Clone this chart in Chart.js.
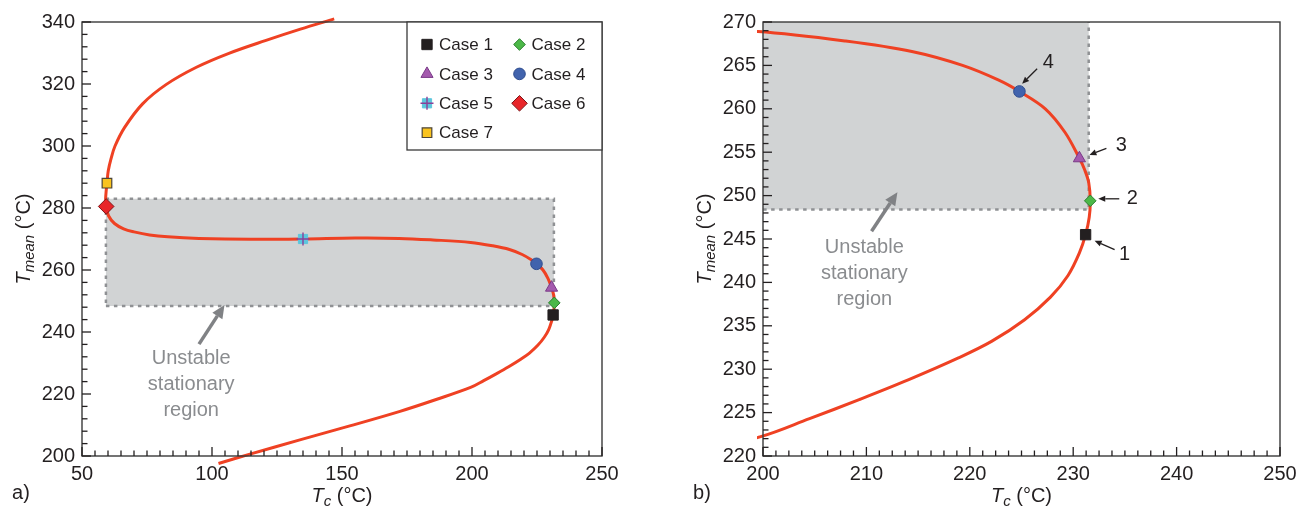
<!DOCTYPE html>
<html>
<head>
<meta charset="utf-8">
<script src="https://cdn.jsdelivr.net/npm/chart.js@4.4.1/dist/chart.umd.min.js"></script>
<style>
  html, body { margin: 0; padding: 0; background: #fff; overflow: hidden; }
  #wrap { position: relative; width: 1299px; height: 507px; overflow: hidden; }
  canvas { position: absolute; top: 0; }
</style>
</head>
<body>
<div id="wrap">
  <canvas id="chartA" width="640" height="507" style="left:0"></canvas>
  <canvas id="chartB" width="660" height="507" style="left:660px"></canvas>
</div>
<script>
// S-shaped steady-state curve, points in order along the curve
const curveTc = [102.5, 114.6, 133.8, 153.0, 172.3, 186.5, 199.7, 204.5, 209.3, 214.1, 218.9, 222.1, 225.3, 227.8,
  229.5, 230.6, 231.2, 231.55, 231.65, 231.5, 231.1, 230.6, 229.2, 227.3, 224.8, 222.8, 219.3, 214.4, 208.0,
  199.5, 185.0, 172.0, 155.0, 135.0, 115.0, 95.0, 83.0, 76.0, 70.0, 66.0, 62.5, 60.2, 59.3, 59.1, 59.3,
  59.6, 60.1, 61.2, 62.7, 66.4, 73.3, 82.3, 94.0, 106.5, 120.5, 134.0, 147.0];
const curveTmean = [197.6, 200.6, 205.2, 209.7, 214.4, 218.3, 222.2, 224.3, 226.5, 228.8, 231.3, 233.2, 235.7, 238.3,
  240.8, 243.4, 245.5, 247.5, 249.4, 251.5, 253.0, 254.3, 257.3, 260.0, 262.0, 263.3, 265.0, 266.6, 267.8,
  268.9, 269.7, 270.2, 270.3, 270.0, 269.9, 270.2, 270.7, 271.3, 272.3, 273.3, 275.0, 277.5, 280.5, 283.0, 285.5,
  288.0, 292.0, 296.0, 300.0, 306.0, 313.6, 319.8, 325.4, 329.9, 334.0, 337.7, 341.0];

// operating points
const caseNames = ['Case 1', 'Case 2', 'Case 3', 'Case 4', 'Case 5', 'Case 6', 'Case 7'];
const caseTc = [231.2, 231.65, 230.6, 224.8, 135.0, 59.3, 59.6];
const caseTmean = [245.5, 249.4, 254.3, 262.0, 270.0, 280.5, 288.0];

// unstable stationary region (shaded box)
const regionTc = [59.2, 231.5];
const regionTmean = [248.4, 283.0];

// axis ticks
const xTicksA = [50, 100, 150, 200, 250];
const yTicksA = [200, 220, 240, 260, 280, 300, 320, 340];
const xTicksB = [200, 210, 220, 230, 240, 250];
const yTicksB = [220, 225, 230, 235, 240, 245, 250, 255, 260, 265, 270];

const regionText = ['Unstable', 'stationary', 'region'];

const FONT = '"Liberation Sans", Arial, Helvetica, sans-serif';
const INK = '#231f20';

const caseStyles = [
  { pointStyle: 'rect', radius: 7.3, bg: '#231f20', border: '#231f20', bw: 1 },
  { pointStyle: 'rectRot', radius: 5.8, bg: '#4cb848', border: '#2a7f2e', bw: 1 },
  { pointStyle: 'triangle', radius: 7, bg: '#a45aae', border: '#7a3a88', bw: 1 },
  { pointStyle: 'circle', radius: 5.8, bg: '#4163ad', border: '#2f4d8f', bw: 1 },
  { pointStyle: 'rect', radius: 6.5, bg: '#5cc6dd', border: '#5cc6dd', bw: 1, cross: '#8a3f98' },
  { pointStyle: 'rectRot', radius: 7.8, bg: '#e8262a', border: '#7d1416', bw: 1 },
  { pointStyle: 'rect', radius: 6.8, bg: '#f9c31f', border: '#4d4536', bw: 1.2 }
];

function drawMarker(ctx, st, x, y) {
  ctx.save();
  ctx.fillStyle = st.bg; ctx.strokeStyle = st.border; ctx.lineWidth = st.bw;
  Chart.helpers.drawPoint(ctx, { pointStyle: st.pointStyle, radius: st.radius, borderWidth: st.bw, rotation: 0 }, x, y);
  if (st.cross) {
    ctx.strokeStyle = st.cross; ctx.lineWidth = 1.4;
    Chart.helpers.drawPoint(ctx, { pointStyle: 'cross', radius: st.radius, borderWidth: 1.4, rotation: 0 }, x, y);
  }
  ctx.restore();
}

function drawArrow(ctx, x0, y0, x1, y1, color, width, headLen, headW) {
  const ang = Math.atan2(y1 - y0, x1 - x0);
  const bx = x1 - headLen * Math.cos(ang), by = y1 - headLen * Math.sin(ang);
  ctx.save();
  ctx.strokeStyle = color; ctx.fillStyle = color; ctx.lineWidth = width;
  ctx.beginPath(); ctx.moveTo(x0, y0); ctx.lineTo(bx, by); ctx.stroke();
  ctx.beginPath();
  ctx.moveTo(x1, y1);
  ctx.lineTo(bx + headW / 2 * Math.sin(ang), by - headW / 2 * Math.cos(ang));
  ctx.lineTo(bx - headW / 2 * Math.sin(ang), by + headW / 2 * Math.cos(ang));
  ctx.closePath(); ctx.fill();
  ctx.restore();
}

// text like T_mean (°C), optionally rotated
function drawSubTitle(ctx, cx, cy, rot, main, sub, rest) {
  ctx.save();
  ctx.translate(cx, cy); ctx.rotate(rot);
  const fMain = 'italic 20px ' + FONT, fSub = 'italic 15px ' + FONT, fRest = '20px ' + FONT;
  ctx.font = fMain; const w1 = ctx.measureText(main).width;
  ctx.font = fSub; const w2 = ctx.measureText(sub).width;
  ctx.font = fRest; const w3 = ctx.measureText(rest).width;
  let xx = -(w1 + w2 + w3) / 2;
  ctx.fillStyle = INK; ctx.textBaseline = 'alphabetic'; ctx.textAlign = 'left';
  ctx.font = fMain; ctx.fillText(main, xx, 7); xx += w1;
  ctx.font = fSub; ctx.fillText(sub, xx, 11); xx += w2;
  ctx.font = fRest; ctx.fillText(rest, xx, 7);
  ctx.restore();
}

function panelPlugin(cfg) {
  return {
    id: 'panel' + cfg.tag,
    afterDatasetsDraw(chart) {
      const { ctx, chartArea: a, scales: { x, y } } = chart;
      ctx.save();
      // frame
      ctx.strokeStyle = '#3a3a3a'; ctx.lineWidth = 1.4;
      ctx.strokeRect(a.left, a.top, a.right - a.left, a.bottom - a.top);
      // inward ticks on bottom and left axes
      ctx.strokeStyle = INK; ctx.lineWidth = 1.3;
      const tickRun = (scale, ticks, minor, horiz) => {
        const lo = ticks[0], hi = ticks[ticks.length - 1];
        const n = Math.round((hi - lo) / minor);
        for (let i = 0; i <= n; i++) {
          const v = lo + i * minor;
          const major = ticks.some(t => Math.abs(t - v) < 1e-6);
          const len = major ? 9 : 5.5;
          const p = scale.getPixelForValue(v);
          ctx.beginPath();
          if (horiz) { ctx.moveTo(p, a.bottom); ctx.lineTo(p, a.bottom - len); }
          else { ctx.moveTo(a.left, p); ctx.lineTo(a.left + len, p); }
          ctx.stroke();
        }
      };
      tickRun(x, cfg.xTicks, cfg.minorX, true);
      tickRun(y, cfg.yTicks, cfg.minorY, false);

      // axis titles and panel letter
      drawSubTitle(ctx, (a.left + a.right) / 2, a.bottom + 39, 0, 'T', 'c', ' (°C)');
      drawSubTitle(ctx, a.left - 59, (a.top + a.bottom) / 2, -Math.PI / 2, 'T', 'mean', ' (°C)');
      ctx.fillStyle = INK; ctx.font = '20px ' + FONT;
      ctx.textAlign = 'center'; ctx.textBaseline = 'middle';
      ctx.fillText(cfg.letter, a.left - 61, a.bottom + 37);

      // region note: gray arrow + text
      const n = cfg.note;
      drawArrow(ctx, x.getPixelForValue(n.from[0]), y.getPixelForValue(n.from[1]),
        x.getPixelForValue(n.to[0]), y.getPixelForValue(n.to[1]), '#808285', 3.5, 13, 12);
      ctx.fillStyle = '#8a8c8f'; ctx.font = '20px ' + FONT;
      const tx = x.getPixelForValue(n.text[0]), ty = y.getPixelForValue(n.text[1]);
      regionText.forEach((s, i) => ctx.fillText(s, tx, ty + i * 26));

      // numbered case labels with arrows
      (cfg.caseMarks || []).forEach(m => {
        const px = x.getPixelForValue(caseTc[m.c]), py = y.getPixelForValue(caseTmean[m.c]);
        drawArrow(ctx, px + m.tail[0], py + m.tail[1], px + m.tip[0], py + m.tip[1], INK, 1.3, 7, 6);
        ctx.fillStyle = INK; ctx.font = '20px ' + FONT;
        ctx.fillText(String(m.c + 1), px + m.label[0], py + m.label[1]);
      });

      // legend box
      if (cfg.legend) {
        const L = cfg.legend;
        ctx.fillStyle = '#fff';
        ctx.fillRect(L.left, a.top, a.right - L.left, L.bottom - a.top);
        ctx.strokeStyle = '#3a3a3a'; ctx.lineWidth = 1.3;
        ctx.strokeRect(L.left, a.top, a.right - L.left, L.bottom - a.top);
        ctx.font = '17px ' + FONT; ctx.textAlign = 'left'; ctx.textBaseline = 'middle';
        caseNames.forEach((name, i) => {
          const col = i % 2, row = Math.floor(i / 2);
          const mx = L.markX[col], my = a.top + L.row0 + row * L.rowGap;
          drawMarker(ctx, caseStyles[i], mx, my);
          ctx.fillStyle = INK;
          ctx.fillText(name, mx + 12, my + 1);
        });
      }
      ctx.restore();
    }
  };
}

function buildDatasets(clip) {
  const box = [
    { x: regionTc[0], y: regionTmean[0] }, { x: regionTc[1], y: regionTmean[0] },
    { x: regionTc[1], y: regionTmean[1] }, { x: regionTc[0], y: regionTmean[1] },
    { x: regionTc[0], y: regionTmean[0] }
  ];
  const sets = [
    {
      data: box, showLine: true, fill: 'shape', backgroundColor: '#d1d3d4',
      borderColor: '#8f9194', borderWidth: 2.5, borderDash: [3.5, 4.5],
      pointRadius: 0, tension: 0, order: 10
    },
    {
      data: curveTc.map((t, i) => ({ x: t, y: curveTmean[i] })), showLine: true, fill: false,
      borderColor: '#ef4123', borderWidth: 3, pointRadius: 0, tension: 0.35,
      cubicInterpolationMode: 'default', clip: clip, order: 5
    }
  ];
  caseStyles.forEach((st, i) => {
    sets.push({
      data: [{ x: caseTc[i], y: caseTmean[i] }], pointStyle: st.pointStyle, pointRadius: st.radius,
      backgroundColor: st.bg, borderColor: st.border, borderWidth: st.bw, order: 1
    });
    if (st.cross) {
      sets.push({
        data: [{ x: caseTc[i], y: caseTmean[i] }], pointStyle: 'cross', pointRadius: st.radius,
        backgroundColor: st.cross, borderColor: st.cross, borderWidth: 1.4, order: 0
      });
    }
  });
  return sets;
}

function makePanel(id, cfg) {
  const axis = (ticks, pad, fit) => ({
    type: 'linear', min: ticks[0], max: ticks[ticks.length - 1],
    afterBuildTicks: s => { s.ticks = ticks.map(v => ({ value: v })); },
    afterFit: fit,
    grid: { display: false, drawTicks: false },
    border: { display: false },
    ticks: { color: INK, padding: pad, font: { family: FONT, size: 20 }, maxRotation: 0 }
  });
  return new Chart(document.getElementById(id), {
    type: 'scatter',
    data: { datasets: buildDatasets(cfg.clip) },
    options: {
      responsive: false, animation: false, events: [],
      layout: { padding: { top: 22, right: cfg.padRight, left: 0, bottom: 0 } },
      elements: { line: { capBezierPoints: false } },
      plugins: { legend: { display: false }, tooltip: { enabled: false } },
      scales: {
        x: axis(cfg.xTicks, 6, s => { s.height = 51; }),
        y: axis(cfg.yTicks, 7, s => { s.width = cfg.yWidth; })
      }
    },
    plugins: [panelPlugin(cfg)]
  });
}

makePanel('chartA', {
  tag: 'A', letter: 'a)', xTicks: xTicksA, yTicks: yTicksA, minorX: 5, minorY: 4,
  yWidth: 82, padRight: 38,
  clip: { left: 8, top: 10, right: 0, bottom: 10 },
  note: { from: [95, 236.1], to: [104.8, 248.7], text: [92, 231.6] },
  legend: { left: 407, bottom: 150, markX: [427, 519.5], row0: 22.5, rowGap: 29.4 }
});

makePanel('chartB', {
  tag: 'B', letter: 'b)', xTicks: xTicksB, yTicks: yTicksB, minorX: 1.25, minorY: 1,
  yWidth: 103, padRight: 40,
  clip: { left: 6, top: 0, right: 0, bottom: 0 },
  note: { from: [210.5, 245.9], to: [213, 250.4], text: [209.8, 244.0] },
  caseMarks: [
    { c: 0, tail: [29, 15], tip: [9, 6], label: [39, 20] },
    { c: 1, tail: [29, -2], tip: [8, -2], label: [42, -2] },
    { c: 2, tail: [27, -10], tip: [10, -3.3], label: [42, -12.6] },
    { c: 3, tail: [17.7, -22.7], tip: [2.7, -7.7], label: [29, -29] }
  ]
});
</script>
</body>
</html>
